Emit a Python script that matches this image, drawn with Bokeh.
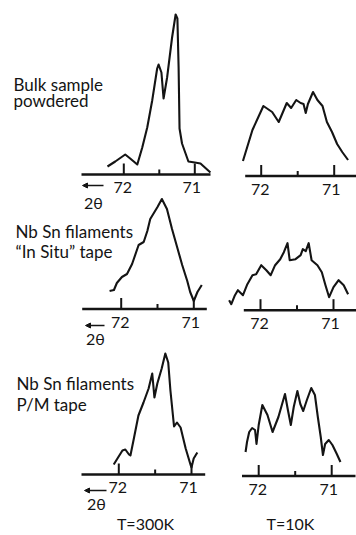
from bokeh.plotting import figure
from bokeh.models import Range1d, Arrow, NormalHead
from bokeh.core.properties import value
from bokeh.embed import file_html
from bokeh.resources import INLINE

# ---------------- data ----------------
tick_major = [72, 71]
tick_minor = [71.5]
tick_labels = ["72", "71"]

# Bulk sample powdered, T = 300 K
bulk300_theta = [72.23, 72.12, 71.98, 71.91, 71.81, 71.74, 71.67, 71.60, 71.53, 71.51,
                 71.47, 71.44, 71.39, 71.32, 71.27, 71.245, 71.228, 71.215, 71.18, 71.09,
                 71.00, 70.92, 70.78]
bulk300_int = [8, 13, 20, 16, 10, 27, 47, 74, 106, 110,
               102, 76, 97, 137, 160, 156, 107, 46, 31, 13,
               12, 11, 2]

# Bulk sample powdered, T = 10 K
bulk10_theta = [72.25, 72.12, 71.97, 71.85, 71.76, 71.65, 71.59, 71.52, 71.46, 71.42,
                71.39, 71.36, 71.29, 71.23, 71.16, 71.10, 71.03, 70.96, 70.89, 70.81]
bulk10_int = [15, 46, 70, 64, 54, 73, 68, 76, 73, 72,
              63, 72, 84, 76, 70, 54, 44, 32, 24, 16]

# Nb3Sn filaments "In Situ" tape, T = 300 K
insitu300_theta = [72.16, 72.10, 72.06, 71.99, 71.92, 71.85, 71.76, 71.69, 71.64, 71.60,
                   71.50, 71.44, 71.37, 71.30, 71.23, 71.16, 71.09, 71.05, 71.00, 70.95,
                   70.89]
insitu300_int = [18, 19, 26, 32, 35, 45, 64, 67, 78, 90,
                 102, 110, 100, 80, 62, 44, 28, 17, 8, 17,
                 24]

# Nb3Sn filaments "In Situ" tape, T = 10 K
insitu10_theta = [72.43, 72.40, 72.35, 72.31, 72.24, 72.18, 72.11, 72.06, 71.99, 71.92,
                  71.86, 71.80, 71.73, 71.68, 71.63, 71.60, 71.52, 71.45, 71.42, 71.38,
                  71.34, 71.30, 71.22, 71.16, 71.11, 71.06, 71.00, 70.93, 70.86, 70.80]
insitu10_int = [10, 6, 15, 20, 15, 26, 35, 36, 45, 40,
                35, 45, 51, 58, 67, 50, 51, 55, 61, 59,
                67, 50, 45, 38, 25, 13, 23, 30, 25, 16]

# Nb3Sn filaments P/M tape, T = 300 K
pm300_theta = [72.07, 72.01, 71.95, 71.91, 71.86, 71.84, 71.79, 71.73, 71.66, 71.59,
               71.54, 71.51, 71.47, 71.41, 71.36, 71.32, 71.29, 71.24, 71.20, 71.15,
               71.08, 71.01, 71.00, 70.97, 70.92]
pm300_int = [10, 17, 24, 25, 20, 19, 37, 59, 72, 86,
             101, 77, 91, 106, 121, 112, 84, 48, 52, 47,
             26, 9, 7, 16, 22]

# Nb3Sn filaments P/M tape, T = 10 K
pm10_theta = [72.18, 72.16, 72.13, 72.09, 72.05, 72.03, 72.00, 71.95, 71.88, 71.81,
              71.73, 71.64, 71.60, 71.56, 71.52, 71.47, 71.43, 71.39, 71.34, 71.28,
              71.23, 71.19, 71.15, 71.12, 71.09, 71.04, 70.99, 70.93, 70.88]
pm10_int = [24, 34, 44, 48, 46, 32, 51, 71, 61, 44,
            59, 82, 66, 51, 69, 85, 72, 65, 76, 88,
            81, 59, 39, 21, 32, 36, 31, 22, 14]

sample_labels = [["Bulk sample", "powdered"],
                 ["Nb Sn filaments", "\u201cIn Situ\u201d tape"],
                 ["Nb Sn filaments", "P/M  tape"]]
temp_labels = ["T=300K", "T=10K"]
angle_label = "2\u03b8"

# ---------------- layout / style ----------------
W, H = 356, 535
INK = "#141414"
FONT = value("Lato")

p = figure(width=W, height=H, x_range=Range1d(0, W), y_range=Range1d(H, 0),
           x_axis_type=None, y_axis_type=None, toolbar_location=None,
           output_backend="svg", min_border=0)
p.outline_line_color = None
p.background_fill_color = "white"
p.border_fill_color = "white"

# panel placement: pixel of the 72 tick, pixels per degree, baseline y, axis line extent
panels = [
    ("A", bulk300_theta, bulk300_int, 123.3, 71.0, 174.0, (81, 210)),
    ("B", bulk10_theta, bulk10_int, 260.7, 73.0, 175.5, (244.7, 356)),
    ("C", insitu300_theta, insitu300_int, 120.7, 72.6, 308.5, (81.7, 206.3)),
    ("D", insitu10_theta, insitu10_int, 260.0, 73.0, 309.7, (243.3, 356)),
    ("E", pm300_theta, pm300_int, 118.3, 72.7, 474.0, (81, 204.7)),
    ("F", pm10_theta, pm10_int, 258.2, 73.0, 475.5, (241.5, 355)),
]

for name, th, inten, x72, k, base, ax in panels:
    p.extra_x_ranges[name] = Range1d(start=72 + x72 / k, end=72 - (W - x72) / k)
    p.extra_y_ranges[name] = Range1d(start=-(H - base), end=base)
    kw = dict(x_range_name=name, y_range_name=name)
    # curve
    p.line(th, inten, line_width=2.1, line_color=INK, line_join="round", **kw)
    # axis line
    th_l = 72 + (x72 - ax[0]) / k
    th_r = 72 - (ax[1] - x72) / k
    p.segment(x0=[th_l], y0=[0], x1=[th_r], y1=[0], line_width=2.6, line_color=INK, **kw)
    # ticks (pointing up)
    p.segment(x0=tick_major, y0=[0] * len(tick_major), x1=tick_major, y1=[11] * len(tick_major),
              line_width=2, line_color=INK, **kw)
    p.segment(x0=tick_minor, y0=[0] * len(tick_minor), x1=tick_minor, y1=[5] * len(tick_minor),
              line_width=2, line_color=INK, **kw)
    # tick labels
    p.text(x=tick_major, y=[-13] * len(tick_major), text=tick_labels, x_offset=[-1, -3],
           text_font=FONT, text_font_size="16px", text_color=INK,
           text_align="center", text_baseline="middle", **kw)

# sample descriptions (pixel coordinates of the default ranges)
label_pos = [(13, 84, 100), (15, 231, 251), (16, 383, 404)]
for (lx, y1, y2), lines in zip(label_pos, sample_labels):
    p.text(x=[lx, lx], y=[y1, y2], text=lines, text_font=FONT, text_font_size="17px",
           text_color=INK, text_align="left", text_baseline="middle")

# 2-theta direction marks
for (xa, xb, ya, xt, yt) in [(103, 82, 185, 93, 202), (104, 85, 325, 95, 338), (106, 84, 490, 96, 503)]:
    p.add_layout(Arrow(end=NormalHead(size=5, fill_color=INK, line_color=INK),
                       x_start=xa, y_start=ya, x_end=xb, y_end=ya,
                       line_width=1.6, line_color=INK))
    p.text(x=[xt], y=[yt], text=[angle_label], text_font=FONT, text_font_size="16px",
           text_color=INK, text_align="center", text_baseline="middle")

# temperature captions
p.text(x=[145, 290], y=[523, 523], text=temp_labels, text_font=FONT, text_font_size="16px",
       text_color=INK, text_align="center", text_baseline="middle")

open("out.html", "w").write(file_html(p, INLINE))
